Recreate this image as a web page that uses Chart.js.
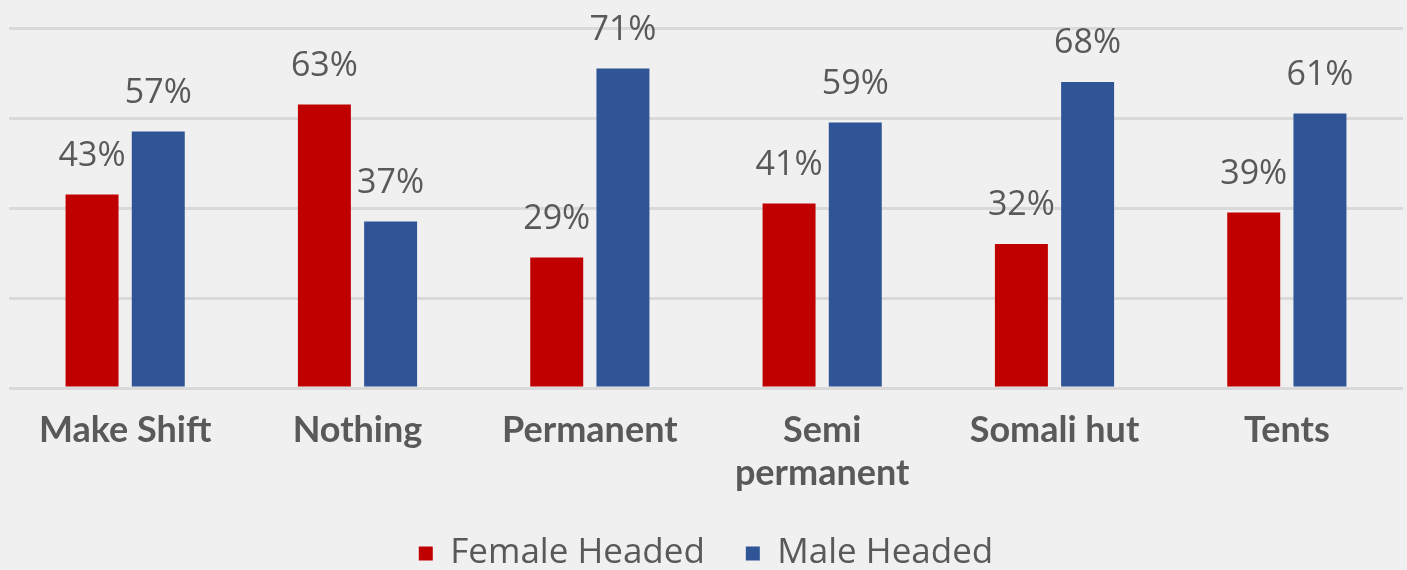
<!DOCTYPE html>
<html>
<head>
<meta charset="utf-8">
<script src="https://cdn.jsdelivr.net/npm/chart.js@4"></script>
<style>
  html, body { margin: 0; padding: 0; background: #f0f0f0; }
  #wrap { width: 1407px; height: 570px; }
</style>
</head>
<body>
<div id="wrap"><canvas id="shelterChart" width="1407" height="570"></canvas></div>
<script>
let categories = ['Make Shift', 'Nothing', 'Permanent', ['Semi', 'permanent'], 'Somali hut', 'Tents'];
let femaleHeaded = [43, 63, 29, 41, 32, 39];
let maleHeaded = [57, 37, 71, 59, 68, 61];
let yTicks = [0, 20, 40, 60, 80];

// draws "43%" style labels above each bar
const barLabels = {
  id: 'barLabels',
  afterDatasetsDraw(chart) {
    const ctx = chart.ctx;
    ctx.save();
    ctx.font = '34px "Open Sans"';
    ctx.fillStyle = '#595959';
    ctx.textAlign = 'center';
    ctx.textBaseline = 'alphabetic';
    chart.data.datasets.forEach((ds, i) => {
      chart.getDatasetMeta(i).data.forEach((bar, j) => {
        ctx.fillText(ds.data[j] + '%', bar.x, bar.y - 29);
      });
    });
    ctx.restore();
  }
};

var ctx = document.getElementById('shelterChart').getContext('2d');
var myChart = new Chart(ctx, {
  type: 'bar',
  data: {
    labels: categories,
    datasets: [
      { label: 'Female Headed', data: femaleHeaded, backgroundColor: '#c00000' },
      { label: 'Male Headed', data: maleHeaded, backgroundColor: '#2f5597' }
    ]
  },
  options: {
    responsive: false,
    animation: false,
    layout: { padding: { left: 9, right: 4, top: 28, bottom: -11 } },
    datasets: { bar: { categoryPercentage: 0.57, barPercentage: 0.8 } },
    plugins: {
      tooltip: { enabled: false },
      legend: {
        position: 'bottom',
        labels: {
          color: '#595959',
          font: { family: 'Open Sans', size: 35 },
          boxWidth: 14,
          boxHeight: 14,
          padding: 41
        }
      }
    },
    scales: {
      x: {
        grid: { display: false, drawTicks: false },
        border: { display: false },
        ticks: {
          color: '#595959',
          font: { family: 'Lato', size: 36, weight: 'bold' },
          padding: 21,
          maxRotation: 0
        },
        afterFit: function(scale) { scale.height = 107; }
      },
      y: {
        min: yTicks[0],
        max: yTicks[yTicks.length - 1],
        afterBuildTicks: function(scale) { scale.ticks = yTicks.map(v => ({ value: v })); },
        ticks: { display: false },
        border: { display: false },
        grid: { color: '#d9d9d9', lineWidth: 3, drawTicks: false }
      }
    }
  },
  plugins: [barLabels]
});
</script>
</body>
</html>
